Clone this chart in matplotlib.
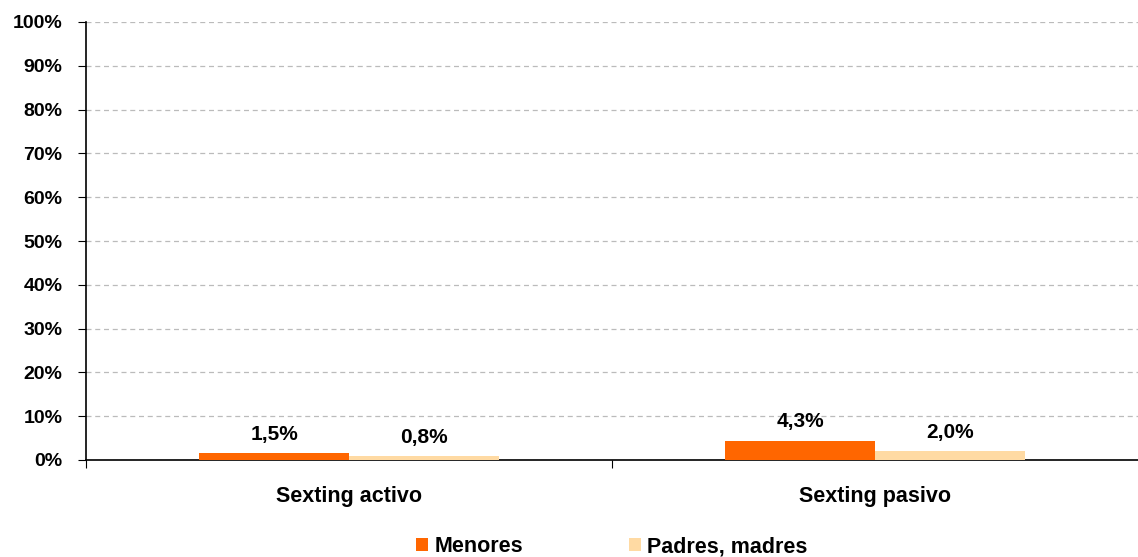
import matplotlib.pyplot as plt
import numpy as np

plt.rcParams['font.family'] = ['Liberation Sans', 'DejaVu Sans']

categories = ["Sexting activo", "Sexting pasivo"]
series_names = ["Menores", "Padres, madres"]
menores = [1.5, 4.3]
padres = [0.8, 2.0]
colors = ["#FF6600", "#FFDAA3"]

fs_tick = 14
fs = 15.5
fig = plt.figure(figsize=(11.38, 5.57), dpi=100)
ax = fig.add_axes([86 / 1138, 1 - 460 / 557, 1052 / 1138, 438 / 557])

x = np.arange(len(categories))
w = 0.285
b1 = ax.bar(x - w / 2, menores, w, color=colors[0], label=series_names[0], zorder=3)
b2 = ax.bar(x + w / 2, padres, w, color=colors[1], label=series_names[1], zorder=3)

for bars, vals in ((b1, menores), (b2, padres)):
    for rect, v in zip(bars, vals):
        ax.annotate(f"{v:.1f}%".replace(".", ","),
                    (rect.get_x() + rect.get_width() / 2, v),
                    xytext=(0, 7), textcoords="offset points",
                    ha="center", va="bottom", fontsize=15, fontweight="bold")

ax.set_xlim(-0.5, 1.5)
ax.set_ylim(0, 100)
ax.set_yticks(range(0, 101, 10))
ax.set_yticklabels([f"{t}%" for t in range(0, 101, 10)], fontsize=fs_tick, fontweight="bold")
ax.set_xticks([-0.5, 0.5])
ax.set_xticklabels([])
ax.set_xticks(x, minor=True)
ax.set_xticklabels(categories, minor=True, fontsize=fs, fontweight="bold")
ax.tick_params(axis="x", which="minor", length=0, pad=19)
ax.tick_params(axis="x", which="major", length=6, direction="out")
ax.tick_params(axis="y", length=6, direction="out", pad=11)

ax.yaxis.grid(True, color="#BBBBBB", linestyle=(0, (4, 3)), linewidth=0.9, zorder=0)
ax.spines["top"].set_visible(False)
ax.spines["right"].set_visible(False)
ax.spines["left"].set_linewidth(1.2)
ax.spines["bottom"].set_linewidth(1.2)

leg = fig.legend(loc="lower center", bbox_to_anchor=(612 / 1138, -0.035), ncol=2,
                 frameon=False, handlelength=0.55, handleheight=0.55,
                 handletextpad=0.3, columnspacing=4.9,
                 prop={"size": fs, "weight": "bold"})

fig.savefig("out.png", dpi=100)
